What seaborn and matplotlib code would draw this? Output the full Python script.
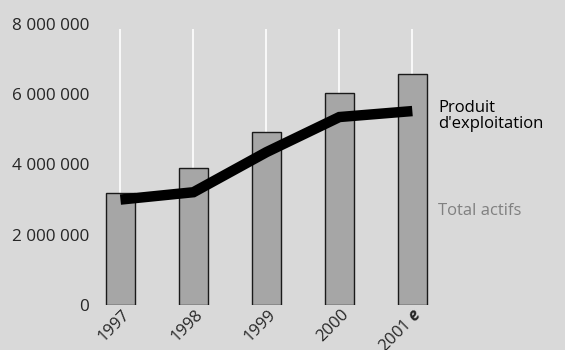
import numpy as np
import pandas as pd
import matplotlib
matplotlib.use("Agg")
import matplotlib.pyplot as plt
import matplotlib.transforms as mtransforms
import seaborn as sns

# Data
years = ["1997", "1998", "1999", "2000", "2001"]
tick_labels = ["1997", "1998", "1999", "2000", r"2001 $\mathbfit{e}$"]
total_actifs = [3_180_000, 3_900_000, 4_910_000, 6_020_000, 6_570_000]
produit_exploitation = [3_000_000, 3_210_000, 4_350_000, 5_350_000, 5_520_000]
y_ticks = [0, 2_000_000, 4_000_000, 6_000_000, 8_000_000]

bg = "#d9d9d9"
bar_color = "#a6a6a6"

sns.set_theme(style="white")
plt.rcParams["font.family"] = ["Open Sans", "DejaVu Sans"]
plt.rcParams["mathtext.fontset"] = "custom"
plt.rcParams["mathtext.bfit"] = "Open Sans:italic:bold"

fig = plt.figure(figsize=(5.65, 3.5), dpi=100, facecolor=bg)
ax = fig.add_axes([0.168, 0.1286, 0.607, 0.803], facecolor=bg)

df = pd.DataFrame({"annee": years, "actifs": total_actifs,
                   "produit": produit_exploitation})

# vertical white guides behind each bar
ax.vlines(np.arange(len(years)), 0, 7_850_000, colors="white",
          linewidth=1.2, zorder=0)

sns.barplot(data=df, x="annee", y="actifs", color=bar_color, width=0.4,
            edgecolor="#1a1a1a", linewidth=1.0, saturation=1, ax=ax, zorder=2)

line_df = pd.DataFrame({"pos": np.arange(len(years)), "produit": produit_exploitation})
sns.lineplot(data=line_df, x="pos", y="produit", color="black", linewidth=7.5,
             ax=ax, zorder=3, solid_capstyle="butt", solid_joinstyle="miter")

ax.set_xlim(-0.35, 4.35)
ax.set_ylim(0, 8_000_000)
ax.set_yticks(y_ticks)
ax.set_yticklabels([f"{v:,}".replace(",", " ") for v in y_ticks], fontsize=12.3)
ax.set_xticks(np.arange(len(years)))
ax.set_xticklabels(tick_labels, rotation=45, ha="right", fontsize=12,
                   rotation_mode="anchor")
ax.tick_params(axis="x", length=0, pad=5)
ax.tick_params(axis="y", length=0, pad=4)
shift = mtransforms.ScaledTranslation(5 / 72, 0, fig.dpi_scale_trans)
for lbl in ax.get_xticklabels():
    lbl.set_va("center")
    lbl.set_transform(lbl.get_transform() + shift)
ax.set_xlabel("")
ax.set_ylabel("")
for s in ax.spines.values():
    s.set_visible(False)

ax.text(1.0, 0.672, "Produit\nd'exploitation", transform=ax.transAxes,
        fontsize=12, color="black", va="center", ha="left", linespacing=0.95)
ax.text(1.0, 0.333, "Total actifs", transform=ax.transAxes,
        fontsize=12, color="#808080", va="center", ha="left")

fig.savefig("out.png", dpi=100, facecolor=bg)
